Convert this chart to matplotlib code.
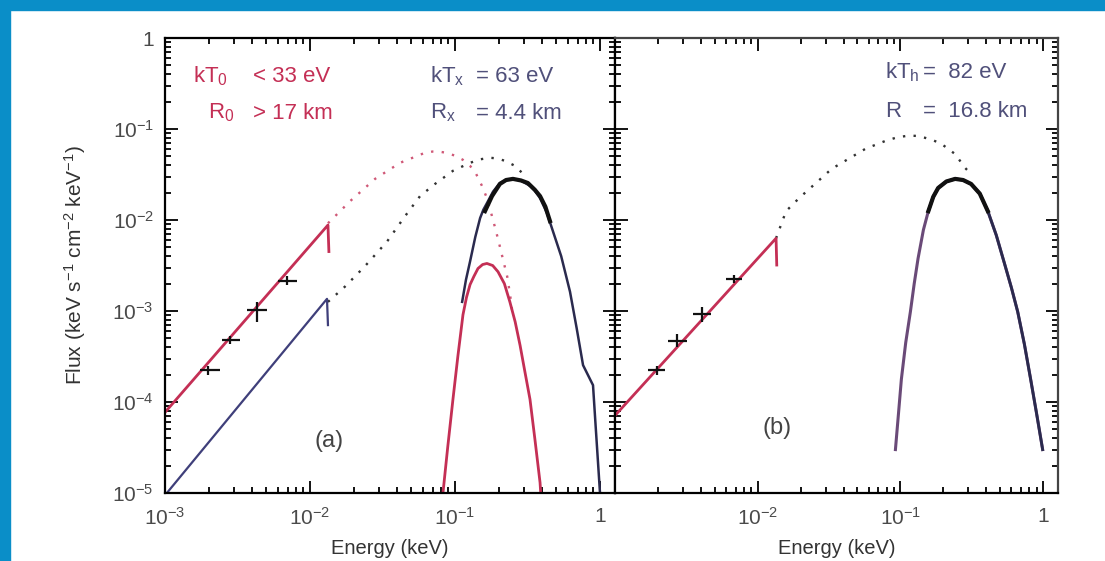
import matplotlib.pyplot as plt
from matplotlib.patches import Rectangle
from matplotlib.ticker import LogLocator, NullFormatter

plt.rcParams['font.family'] = ['Liberation Sans', 'DejaVu Sans']
plt.rcParams['mathtext.fontset'] = 'custom'
plt.rcParams['mathtext.rm'] = 'Liberation Sans'
plt.rcParams['mathtext.it'] = 'Liberation Sans'
plt.rcParams['mathtext.default'] = 'regular'

# ---- data (energy in keV, flux) ----
xticks = [1e-3, 1e-2, 1e-1, 1]
xtick_labels = ['$10^{-3}$', '$10^{-2}$', '$10^{-1}$', '1']
xticks_b = [1e-2, 1e-1, 1]
xtick_labels_b = ['$10^{-2}$', '$10^{-1}$', '1']
yticks = [1e-5, 1e-4, 1e-3, 1e-2, 1e-1, 1]
ytick_labels = ['$10^{-5}$', '$10^{-4}$', '$10^{-3}$', '$10^{-2}$', '$10^{-1}$', '1']

# panel (a)
a_rj_red_e = [1.0e-3, 1.33e-2, 1.35e-2]
a_rj_red_f = [7.7e-5, 8.8e-3, 4.5e-3]
a_rj_blue_e = [1.03e-3, 1.31e-2, 1.33e-2]
a_rj_blue_f = [1.0e-5, 1.36e-3, 7.0e-4]

a_dot_red_e = [0.0133, 0.0189, 0.0281, 0.0418, 0.0621, 0.07, 0.0788, 0.089, 0.1, 0.113, 0.127, 0.14,
               0.1535, 0.167, 0.18, 0.192, 0.204, 0.216, 0.229, 0.24, 0.251]
a_dot_red_f = [9.2e-3, 1.61e-2, 2.83e-2, 4.25e-2, 5.48e-2, 5.65e-2, 5.62e-2, 5.45e-2, 5.08e-2, 4.6e-2, 3.94e-2, 3.2e-2,
               2.37e-2, 1.7e-2, 1.1e-2, 7.5e-3, 5.1e-3, 3.5e-3, 2.4e-3, 1.5e-3, 8.6e-4]
a_dot_blk_e = [0.0133, 0.0174, 0.0239, 0.034, 0.0452, 0.0574, 0.0728, 0.0968, 0.127, 0.15, 0.174, 0.195,
               0.221, 0.259, 0.29]
a_dot_blk_f = [1.26e-3, 1.85e-3, 3.1e-3, 5.8e-3, 1.1e-2, 1.83e-2, 2.49e-2, 3.47e-2, 4.25e-2, 4.65e-2, 4.83e-2, 4.75e-2,
               4.47e-2, 3.94e-2, 3.3e-2]

a_bb_red_e = [0.0826, 0.0891, 0.0968, 0.1047, 0.1135, 0.120, 0.127, 0.135, 0.144, 0.155, 0.166, 0.182,
              0.198, 0.219, 0.239, 0.26, 0.281, 0.302, 0.329, 0.355, 0.386, 0.39]
a_bb_red_f = [1.0e-5, 3.2e-5, 1.07e-4, 3.2e-4, 9.1e-4, 1.41e-3, 1.95e-3, 2.4e-3, 2.93e-3, 3.24e-3, 3.33e-3, 3.16e-3,
              2.7e-3, 2.0e-3, 1.26e-3, 7.6e-4, 4.2e-4, 2.24e-4, 1.07e-4, 4.0e-5, 1.3e-5, 1.0e-5]
a_bb_blue_e = [0.112, 0.119, 0.127, 0.138, 0.149, 0.157, 0.166, 0.183, 0.204, 0.225, 0.251, 0.285, 0.329,
               0.355, 0.386, 0.43, 0.474, 0.54, 0.621, 0.69, 0.764, 0.895, 0.93, 1.0]
a_bb_blue_f = [1.26e-3, 2.2e-3, 3.5e-3, 6.5e-3, 1.05e-2, 1.3e-2, 1.53e-2, 2.05e-2, 2.55e-2, 2.75e-2, 2.83e-2, 2.72e-2, 2.37e-2,
               2.1e-2, 1.74e-2, 1.2e-2, 7.5e-3, 4.0e-3, 1.63e-3, 6.5e-4, 2.54e-4, 1.53e-4, 5.9e-5, 1.0e-5]
a_xray_e = [0.161, 0.18, 0.204, 0.225, 0.251, 0.285, 0.318, 0.355, 0.386, 0.42, 0.452]
a_xray_f = [1.25e-2, 1.83e-2, 2.49e-2, 2.75e-2, 2.83e-2, 2.72e-2, 2.55e-2, 2.15e-2, 1.83e-2, 1.4e-2, 9.7e-3]

a_opt_e = [1.98e-3, 2.81e-3, 4.3e-3, 6.93e-3]
a_opt_f = [2.24e-4, 4.8e-4, 1.03e-3, 2.16e-3]
a_opt_elo = [1.74e-3, 2.47e-3, 3.68e-3, 6.0e-3]
a_opt_ehi = [2.39e-3, 3.29e-3, 5.05e-3, 8.1e-3]
a_opt_flo = [2.0e-4, 4.3e-4, 7.6e-4, 1.94e-3]
a_opt_fhi = [2.5e-4, 5.3e-4, 1.26e-3, 2.4e-3]

# panel (b)
b_rj_e = [1.0e-3, 1.345e-2, 1.36e-2]
b_rj_f = [7.1e-5, 6.3e-3, 3.2e-3]
b_dot_e = [0.01345, 0.0158, 0.0195, 0.0256, 0.033, 0.0434, 0.057, 0.0786, 0.095, 0.1137, 0.13, 0.149, 0.17,
           0.193, 0.242, 0.284, 0.313]
b_dot_f = [6.3e-3, 1.25e-2, 1.74e-2, 2.55e-2, 3.65e-2, 4.71e-2, 6.07e-2, 7.4e-2, 8.1e-2, 8.45e-2, 8.4e-2, 8.0e-2, 7.5e-2,
           6.9e-2, 5.3e-2, 3.74e-2, 3.2e-2]
b_bb_e = [0.0923, 0.097, 0.1016, 0.109, 0.1175, 0.125, 0.133, 0.145, 0.157, 0.17, 0.184, 0.21, 0.242, 0.275,
          0.313, 0.36, 0.41, 0.47, 0.539, 0.6, 0.664, 0.74, 0.818, 0.9, 0.993]
b_bb_f = [3.0e-5, 7.5e-5, 1.78e-4, 4.5e-4, 9.8e-4, 2.0e-3, 3.78e-3, 7.8e-3, 1.25e-2, 1.8e-2, 2.25e-2, 2.65e-2, 2.83e-2, 2.75e-2,
          2.49e-2, 1.95e-2, 1.25e-2, 6.8e-3, 3.24e-3, 1.8e-3, 9.8e-4, 4.3e-4, 1.78e-4, 7.5e-5, 3.0e-5]
b_xray_e = [0.157, 0.17, 0.184, 0.21, 0.242, 0.275, 0.313, 0.36, 0.41]
b_xray_f = [1.25e-2, 1.8e-2, 2.25e-2, 2.65e-2, 2.83e-2, 2.75e-2, 2.49e-2, 1.95e-2, 1.25e-2]

b_opt_e = [1.96e-3, 2.7e-3, 4.04e-3, 6.86e-3]
b_opt_f = [2.24e-4, 4.7e-4, 9.3e-4, 2.27e-3]
b_opt_elo = [1.7e-3, 2.34e-3, 3.5e-3, 6.0e-3]
b_opt_ehi = [2.23e-3, 3.18e-3, 4.74e-3, 7.8e-3]
b_opt_flo = [2.0e-4, 4.0e-4, 7.6e-4, 2.04e-3]
b_opt_fhi = [2.5e-4, 5.6e-4, 1.11e-3, 2.5e-3]

red = '#c42f55'
blue = '#3f3f7a'
navy = '#2a2a4e'
W, H = 1105, 561

fig = plt.figure(figsize=(W / 100, H / 100), dpi=100)
fig.patches.append(Rectangle((0, 0), 10 / W, 1, transform=fig.transFigure, color='#0a8ec8', zorder=-1))
fig.patches.append(Rectangle((0, 1 - 10 / H), 1, 10 / H, transform=fig.transFigure, color='#0a8ec8', zorder=-1))

ax1 = fig.add_axes([165 / W, 1 - 493 / H, 450 / W, 455 / H])
ax2 = fig.add_axes([615 / W, 1 - 493 / H, 443 / W, 455 / H])


def errs(e, elo, ehi, f, flo, fhi):
    xe = [[v - lo for v, lo in zip(e, elo)], [hi - v for v, hi in zip(e, ehi)]]
    ye = [[v - lo for v, lo in zip(f, flo)], [hi - v for v, hi in zip(f, fhi)]]
    return xe, ye


def style(ax, xmax, xt, xl, show_y):
    ax.set_xscale('log')
    ax.set_yscale('log')
    ax.set_xlim(1e-3, xmax)
    ax.set_ylim(1e-5, 1)
    ax.set_xticks(xt)
    ax.set_xticklabels(xl)
    ax.set_yticks(yticks)
    if show_y:
        ax.set_yticklabels(ytick_labels)
    else:
        ax.set_yticklabels([])
    ax.xaxis.set_minor_locator(LogLocator(base=10, subs=range(2, 10), numticks=20))
    ax.yaxis.set_minor_locator(LogLocator(base=10, subs=range(2, 10), numticks=20))
    ax.xaxis.set_minor_formatter(NullFormatter())
    ax.yaxis.set_minor_formatter(NullFormatter())
    ax.tick_params(which='both', direction='in', top=True, right=True,
                   labelsize=15, labelcolor='#4a4a4a', width=1.3)
    ax.tick_params(which='major', length=9, pad=8)
    ax.tick_params(axis='x', which='major', pad=10)
    ax.tick_params(which='minor', length=4.5)
    for s in ax.spines.values():
        s.set_linewidth(1.6)
    ax.set_xlabel('Energy (keV)', fontsize=14.5, color='#333333')
    ax.xaxis.set_label_coords(0.5, -0.1)


# panel (a)
ax1.plot(a_dot_red_e, a_dot_red_f, color=red, lw=1.7, dashes=(1, 3.5), alpha=0.8)
ax1.plot(a_dot_blk_e, a_dot_blk_f, color='#333333', lw=1.7, dashes=(1, 3.5))
ax1.plot(a_rj_red_e, a_rj_red_f, color=red, lw=2)
ax1.plot(a_rj_blue_e, a_rj_blue_f, color=blue, lw=1.6)
ax1.plot(a_bb_red_e, a_bb_red_f, color=red, lw=2)
ax1.plot(a_bb_blue_e, a_bb_blue_f, color=navy, lw=1.8)
ax1.plot(a_xray_e, a_xray_f, color='#111111', lw=3)
xe, ye = errs(a_opt_e, a_opt_elo, a_opt_ehi, a_opt_f, a_opt_flo, a_opt_fhi)
ax1.errorbar(a_opt_e, a_opt_f, xerr=xe, yerr=ye, fmt='none', ecolor='#111111', elinewidth=1.6, capsize=0)
style(ax1, 10 ** (15 / 145), xticks, xtick_labels, True)
ax1.set_ylabel('Flux (keV s$^{-1}$ cm$^{-2}$ keV$^{-1}$)', fontsize=15, color='#333333')
ax1.yaxis.set_label_coords(-0.172, 0.5)

ax1.text(0.063, 0.915, 'kT$_0$', transform=ax1.transAxes, color=red, fontsize=16, va='center')
ax1.text(0.195, 0.915, '< 33 eV', transform=ax1.transAxes, color=red, fontsize=16, va='center')
ax1.text(0.095, 0.835, 'R$_0$', transform=ax1.transAxes, color=red, fontsize=16, va='center')
ax1.text(0.195, 0.835, '> 17 km', transform=ax1.transAxes, color=red, fontsize=16, va='center')
ax1.text(0.588, 0.915, 'kT$_x$', transform=ax1.transAxes, color='#50507a', fontsize=16, va='center')
ax1.text(0.69, 0.915, '= 63 eV', transform=ax1.transAxes, color='#50507a', fontsize=16, va='center')
ax1.text(0.588, 0.835, 'R$_x$', transform=ax1.transAxes, color='#50507a', fontsize=16, va='center')
ax1.text(0.69, 0.835, '= 4.4 km', transform=ax1.transAxes, color='#50507a', fontsize=16, va='center')
ax1.text(0.365, 0.115, '(a)', transform=ax1.transAxes, color='#444444', fontsize=17, ha='center', va='center')

# panel (b)
ax2.plot(b_dot_e, b_dot_f, color='#333333', lw=1.7, dashes=(1, 3.5))
ax2.plot(b_rj_e, b_rj_f, color=red, lw=2)
ax2.plot(b_bb_e, b_bb_f, color='#6a4a78', lw=2.2)
ax2.plot(b_bb_e[8:], b_bb_f[8:], color=navy, lw=2)
ax2.plot(b_xray_e, b_xray_f, color='#111111', lw=3)
xe, ye = errs(b_opt_e, b_opt_elo, b_opt_ehi, b_opt_f, b_opt_flo, b_opt_fhi)
ax2.errorbar(b_opt_e, b_opt_f, xerr=xe, yerr=ye, fmt='none', ecolor='#111111', elinewidth=1.6, capsize=0)
style(ax2, 10 ** (15 / 143.5), xticks_b, xtick_labels_b, False)
for s in ['top', 'right']:
    ax2.spines[s].set_color('#444444')

ax2.text(0.61, 0.925, 'kT$_h$', transform=ax2.transAxes, color='#50507a', fontsize=16, va='center')
ax2.text(0.695, 0.925, '=  82 eV', transform=ax2.transAxes, color='#50507a', fontsize=16, va='center')
ax2.text(0.61, 0.838, 'R', transform=ax2.transAxes, color='#50507a', fontsize=16, va='center')
ax2.text(0.695, 0.838, '=  16.8 km', transform=ax2.transAxes, color='#50507a', fontsize=16, va='center')
ax2.text(0.366, 0.142, '(b)', transform=ax2.transAxes, color='#444444', fontsize=17, ha='center', va='center')

fig.savefig('out.png', dpi=100, facecolor='white')
